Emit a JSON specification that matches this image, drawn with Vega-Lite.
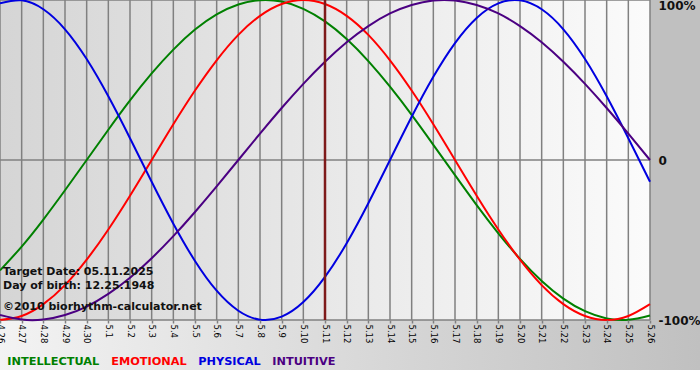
{
  "$schema": "https://vega.github.io/schema/vega-lite/v6.json",
  "width": 650,
  "height": 320,
  "autosize": {"type": "none"},
  "padding": {"left": 0, "top": 0, "right": 50, "bottom": 60},
  "background": "#c0c0c0",
  "config": {
    "font": "DejaVu Sans",
    "view": {"stroke": null},
    "axis": {"labelFont": "DejaVu Sans"}
  },
  "datasets": {
    "days": [
      {"day": "4.26", "INTELLECTUAL": -0.690, "EMOTIONAL": -1.000, "PHYSICAL": 0.979, "INTUITIVE": -0.969},
      {"day": "4.27", "INTELLECTUAL": -0.541, "EMOTIONAL": -0.975, "PHYSICAL": 0.998, "INTUITIVE": -0.997},
      {"day": "4.28", "INTELLECTUAL": -0.372, "EMOTIONAL": -0.901, "PHYSICAL": 0.942, "INTUITIVE": -0.997},
      {"day": "4.29", "INTELLECTUAL": -0.189, "EMOTIONAL": -0.782, "PHYSICAL": 0.817, "INTUITIVE": -0.969},
      {"day": "4.30", "INTELLECTUAL": 0.000, "EMOTIONAL": -0.623, "PHYSICAL": 0.631, "INTUITIVE": -0.916},
      {"day": "5.1", "INTELLECTUAL": 0.189, "EMOTIONAL": -0.434, "PHYSICAL": 0.398, "INTUITIVE": -0.837},
      {"day": "5.2", "INTELLECTUAL": 0.372, "EMOTIONAL": -0.223, "PHYSICAL": 0.136, "INTUITIVE": -0.736},
      {"day": "5.3", "INTELLECTUAL": 0.541, "EMOTIONAL": 0.000, "PHYSICAL": -0.136, "INTUITIVE": -0.614},
      {"day": "5.4", "INTELLECTUAL": 0.690, "EMOTIONAL": 0.223, "PHYSICAL": -0.398, "INTUITIVE": -0.476},
      {"day": "5.5", "INTELLECTUAL": 0.815, "EMOTIONAL": 0.434, "PHYSICAL": -0.631, "INTUITIVE": -0.325},
      {"day": "5.6", "INTELLECTUAL": 0.910, "EMOTIONAL": 0.623, "PHYSICAL": -0.817, "INTUITIVE": -0.165},
      {"day": "5.7", "INTELLECTUAL": 0.972, "EMOTIONAL": 0.782, "PHYSICAL": -0.942, "INTUITIVE": 0.000},
      {"day": "5.8", "INTELLECTUAL": 0.999, "EMOTIONAL": 0.901, "PHYSICAL": -0.998, "INTUITIVE": 0.165},
      {"day": "5.9", "INTELLECTUAL": 0.990, "EMOTIONAL": 0.975, "PHYSICAL": -0.979, "INTUITIVE": 0.325},
      {"day": "5.10", "INTELLECTUAL": 0.945, "EMOTIONAL": 1.000, "PHYSICAL": -0.888, "INTUITIVE": 0.476},
      {"day": "5.11", "INTELLECTUAL": 0.866, "EMOTIONAL": 0.975, "PHYSICAL": -0.731, "INTUITIVE": 0.614},
      {"day": "5.12", "INTELLECTUAL": 0.756, "EMOTIONAL": 0.901, "PHYSICAL": -0.520, "INTUITIVE": 0.736},
      {"day": "5.13", "INTELLECTUAL": 0.618, "EMOTIONAL": 0.782, "PHYSICAL": -0.270, "INTUITIVE": 0.837},
      {"day": "5.14", "INTELLECTUAL": 0.458, "EMOTIONAL": 0.623, "PHYSICAL": 0.000, "INTUITIVE": 0.916},
      {"day": "5.15", "INTELLECTUAL": 0.282, "EMOTIONAL": 0.434, "PHYSICAL": 0.270, "INTUITIVE": 0.969},
      {"day": "5.16", "INTELLECTUAL": 0.095, "EMOTIONAL": 0.223, "PHYSICAL": 0.520, "INTUITIVE": 0.997},
      {"day": "5.17", "INTELLECTUAL": -0.095, "EMOTIONAL": 0.000, "PHYSICAL": 0.731, "INTUITIVE": 0.997},
      {"day": "5.18", "INTELLECTUAL": -0.282, "EMOTIONAL": -0.223, "PHYSICAL": 0.888, "INTUITIVE": 0.969},
      {"day": "5.19", "INTELLECTUAL": -0.458, "EMOTIONAL": -0.434, "PHYSICAL": 0.979, "INTUITIVE": 0.916},
      {"day": "5.20", "INTELLECTUAL": -0.618, "EMOTIONAL": -0.623, "PHYSICAL": 0.998, "INTUITIVE": 0.837},
      {"day": "5.21", "INTELLECTUAL": -0.756, "EMOTIONAL": -0.782, "PHYSICAL": 0.942, "INTUITIVE": 0.736},
      {"day": "5.22", "INTELLECTUAL": -0.866, "EMOTIONAL": -0.901, "PHYSICAL": 0.817, "INTUITIVE": 0.614},
      {"day": "5.23", "INTELLECTUAL": -0.945, "EMOTIONAL": -0.975, "PHYSICAL": 0.631, "INTUITIVE": 0.476},
      {"day": "5.24", "INTELLECTUAL": -0.990, "EMOTIONAL": -1.000, "PHYSICAL": 0.398, "INTUITIVE": 0.325},
      {"day": "5.25", "INTELLECTUAL": -0.999, "EMOTIONAL": -0.975, "PHYSICAL": 0.136, "INTUITIVE": 0.165},
      {"day": "5.26", "INTELLECTUAL": -0.972, "EMOTIONAL": -0.901, "PHYSICAL": -0.136, "INTUITIVE": 0.000}
    ],
    "one": [{"n": 1}]
  },
  "layer": [
    {
      "data": {"name": "one"},
      "mark": {"type": "rect", "color": {"gradient": "linear", "x1": 0, "y1": 0, "x2": 1, "y2": 0, "stops": [{"offset": 0, "color": "#d5d5d5"}, {"offset": 1, "color": "#fbfbfb"}]}},
      "encoding": {
        "x": {"datum": "4.26", "type": "ordinal", "scale": {"type": "point", "padding": 0, "domain": ["4.26","4.27","4.28","4.29","4.30","5.1","5.2","5.3","5.4","5.5","5.6","5.7","5.8","5.9","5.10","5.11","5.12","5.13","5.14","5.15","5.16","5.17","5.18","5.19","5.20","5.21","5.22","5.23","5.24","5.25","5.26"]}},
        "x2": {"datum": "5.26"},
        "y": {"datum": 1, "type": "quantitative", "scale": {"domain": [-1, 1], "nice": false, "zero": false}},
        "y2": {"datum": -1}
      }
    },
    {
      "data": {"name": "one"},
      "mark": {"type": "rect", "x2Offset": 50, "color": {"gradient": "linear", "x1": 0, "y1": 0, "x2": 1, "y2": 0, "stops": [{"offset": 0, "color": "#f3f3f3"}, {"offset": 1, "color": "#c0c0c0"}]}},
      "encoding": {
        "x": {"datum": "4.26", "type": "ordinal", "scale": {"type": "point", "padding": 0, "domain": ["4.26","4.27","4.28","4.29","4.30","5.1","5.2","5.3","5.4","5.5","5.6","5.7","5.8","5.9","5.10","5.11","5.12","5.13","5.14","5.15","5.16","5.17","5.18","5.19","5.20","5.21","5.22","5.23","5.24","5.25","5.26"]}},
        "x2": {"datum": "5.26"},
        "y": {"datum": -1, "type": "quantitative", "scale": {"domain": [-1, 1], "nice": false, "zero": false}},
        "y2": {"datum": -1.3125}
      }
    },
    {
      "data": {"name": "one"},
      "mark": {"type": "rect", "x2Offset": 50, "color": "#ffffff"},
      "encoding": {
        "x": {"datum": "4.26", "type": "ordinal", "scale": {"type": "point", "padding": 0, "domain": ["4.26","4.27","4.28","4.29","4.30","5.1","5.2","5.3","5.4","5.5","5.6","5.7","5.8","5.9","5.10","5.11","5.12","5.13","5.14","5.15","5.16","5.17","5.18","5.19","5.20","5.21","5.22","5.23","5.24","5.25","5.26"]}},
        "x2": {"datum": "5.26"},
        "y": {"datum": -1.3125, "type": "quantitative", "scale": {"domain": [-1, 1], "nice": false, "zero": false}},
        "y2": {"datum": -1.4}
      }
    },
    {
      "data": {"name": "days"},
      "mark": {"type": "rule", "color": "#808080", "strokeWidth": 1.5},
      "encoding": {
        "x": {"field": "day", "type": "ordinal", "scale": {"type": "point", "padding": 0, "domain": ["4.26","4.27","4.28","4.29","4.30","5.1","5.2","5.3","5.4","5.5","5.6","5.7","5.8","5.9","5.10","5.11","5.12","5.13","5.14","5.15","5.16","5.17","5.18","5.19","5.20","5.21","5.22","5.23","5.24","5.25","5.26"]},
          "axis": {"title": null, "orient": "bottom", "grid": false, "domain": false, "ticks": true, "tickSize": 3, "tickColor": "#808080", "tickWidth": 1.5, "labelAngle": 90, "labelAlign": "left", "labelBaseline": "middle", "labelFontSize": 8.5, "labelColor": "#000000", "labelPadding": 1, "zindex": 1, "labelOverlap": false}}
      }
    },
    {
      "data": {"name": "one"},
      "mark": {"type": "rule", "color": "#808080", "strokeWidth": 1.5},
      "encoding": {"y": {"datum": 1, "type": "quantitative", "scale": {"domain": [-1, 1], "nice": false, "zero": false}}}
    },
    {
      "data": {"name": "one"},
      "mark": {"type": "rule", "color": "#808080", "strokeWidth": 1.5},
      "encoding": {"y": {"datum": 0, "type": "quantitative", "scale": {"domain": [-1, 1], "nice": false, "zero": false}}}
    },
    {
      "data": {"name": "one"},
      "mark": {"type": "rule", "color": "#808080", "strokeWidth": 1.5},
      "encoding": {"y": {"datum": -1, "type": "quantitative", "scale": {"domain": [-1, 1], "nice": false, "zero": false}}}
    },
    {
      "data": {"name": "days"},
      "transform": [{"fold": ["INTELLECTUAL", "EMOTIONAL", "PHYSICAL", "INTUITIVE"], "as": ["series", "value"]}],
      "mark": {"type": "line", "strokeWidth": 2, "interpolate": "natural"},
      "encoding": {
        "x": {"field": "day", "type": "ordinal", "scale": {"type": "point", "padding": 0, "domain": ["4.26","4.27","4.28","4.29","4.30","5.1","5.2","5.3","5.4","5.5","5.6","5.7","5.8","5.9","5.10","5.11","5.12","5.13","5.14","5.15","5.16","5.17","5.18","5.19","5.20","5.21","5.22","5.23","5.24","5.25","5.26"]}},
        "y": {"field": "value", "type": "quantitative", "scale": {"domain": [-1, 1], "nice": false, "zero": false},
          "axis": {"title": null, "orient": "right", "values": [-1, 0, 1], "grid": false, "domain": false, "ticks": false, "tickSize": 0, "labelPadding": 8, "labelFontSize": 12, "labelFontWeight": "bold", "labelColor": "#111111", "labelAlign": "left", "zindex": 1,
            "labelBaseline": {"condition": {"test": "datum.value == 1", "value": "top"}, "value": "middle"},
            "labelExpr": "datum.value == 1 ? '100%' : (datum.value == 0 ? '0' : '-100%')"}},
        "color": {"field": "series", "type": "nominal",
          "scale": {"domain": ["INTELLECTUAL", "EMOTIONAL", "PHYSICAL", "INTUITIVE"], "range": ["#008000", "#ff0000", "#0000e0", "#4b0082"]},
          "legend": {"title": null, "orient": "none", "legendX": -4, "legendY": 356, "direction": "horizontal", "symbolSize": 0, "symbolOpacity": 0, "symbolStrokeWidth": 0, "labelOffset": 0, "columnPadding": -9, "padding": 0, "labelFontSize": 11.3, "labelFontWeight": "bold", "labelBaseline": "middle",
            "encode": {"labels": {"update": {"fill": {"scale": "color", "field": "value"}}}}}}
      }
    },
    {
      "data": {"name": "one"},
      "mark": {"type": "rule", "color": "#7e1a1a", "strokeWidth": 2.5},
      "encoding": {"x": {"datum": "5.11", "type": "ordinal", "scale": {"type": "point", "padding": 0, "domain": ["4.26","4.27","4.28","4.29","4.30","5.1","5.2","5.3","5.4","5.5","5.6","5.7","5.8","5.9","5.10","5.11","5.12","5.13","5.14","5.15","5.16","5.17","5.18","5.19","5.20","5.21","5.22","5.23","5.24","5.25","5.26"]}}}
    },
    {
      "data": {"name": "one"},
      "mark": {"type": "text", "align": "left", "baseline": "middle", "dx": 3, "fontSize": 11, "fontWeight": "bold", "color": "#111111"},
      "encoding": {
        "x": {"datum": "4.26", "type": "ordinal", "scale": {"type": "point", "padding": 0, "domain": ["4.26","4.27","4.28","4.29","4.30","5.1","5.2","5.3","5.4","5.5","5.6","5.7","5.8","5.9","5.10","5.11","5.12","5.13","5.14","5.15","5.16","5.17","5.18","5.19","5.20","5.21","5.22","5.23","5.24","5.25","5.26"]}},
        "y": {"datum": -0.7, "type": "quantitative", "scale": {"domain": [-1, 1], "nice": false, "zero": false}},
        "text": {"value": "Target Date: 05.11.2025"}
      }
    },
    {
      "data": {"name": "one"},
      "mark": {"type": "text", "align": "left", "baseline": "middle", "dx": 3, "fontSize": 11, "fontWeight": "bold", "color": "#111111"},
      "encoding": {
        "x": {"datum": "4.26", "type": "ordinal", "scale": {"type": "point", "padding": 0, "domain": ["4.26","4.27","4.28","4.29","4.30","5.1","5.2","5.3","5.4","5.5","5.6","5.7","5.8","5.9","5.10","5.11","5.12","5.13","5.14","5.15","5.16","5.17","5.18","5.19","5.20","5.21","5.22","5.23","5.24","5.25","5.26"]}},
        "y": {"datum": -0.79, "type": "quantitative", "scale": {"domain": [-1, 1], "nice": false, "zero": false}},
        "text": {"value": "Day of birth: 12.25.1948"}
      }
    },
    {
      "data": {"name": "one"},
      "mark": {"type": "text", "align": "left", "baseline": "middle", "dx": 3, "fontSize": 11, "fontWeight": "bold", "color": "#111111"},
      "encoding": {
        "x": {"datum": "4.26", "type": "ordinal", "scale": {"type": "point", "padding": 0, "domain": ["4.26","4.27","4.28","4.29","4.30","5.1","5.2","5.3","5.4","5.5","5.6","5.7","5.8","5.9","5.10","5.11","5.12","5.13","5.14","5.15","5.16","5.17","5.18","5.19","5.20","5.21","5.22","5.23","5.24","5.25","5.26"]}},
        "y": {"datum": -0.917, "type": "quantitative", "scale": {"domain": [-1, 1], "nice": false, "zero": false}},
        "text": {"value": "©2010 biorhythm-calculator.net"}
      }
    }
  ]
}
